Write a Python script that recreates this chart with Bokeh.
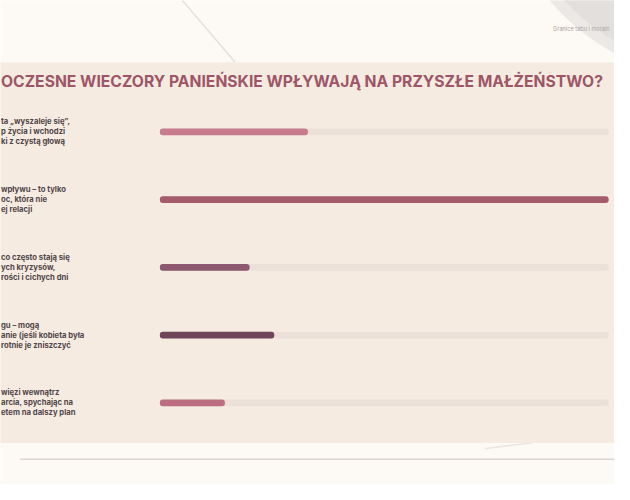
from bokeh.plotting import figure
from bokeh.models import Range1d, ColumnDataSource, Label
from bokeh.embed import file_html
from bokeh.resources import INLINE
from bokeh.core.properties import value

# ---- data ----
title_text = "OCZESNE WIECZORY PANIEŃSKIE WPŁYWAJĄ NA PRZYSZŁE MAŁŻEŃSTWO?"
header_text = "Granice tabu i moraln"
labels = [
    "ta „wyszaleje się”,\np życia i wchodzi\nki z czystą głową",
    "wpływu – to tylko\noc, która nie\nej relacji",
    "co często stają się\nych kryzysów,\nrości i cichych dni",
    "gu – mogą\nanie (jeśli kobieta była\nrotnie je zniszczyć",
    "więzi wewnątrz\narcia, spychając na\netem na dalszy plan",
]
values = [33, 100, 20, 25.5, 14.5]
rows = [0, 1, 2, 3, 4]
colors = ["#c97b8e", "#a45c6c", "#8b586f", "#6e4559", "#bd6d80"]
track_max = [100, 100, 100, 100, 100]

# ---- figure (main range follows the slide's 630x500 pixel grid) ----
W, H = 614, 484
p = figure(width=W, height=H, output_backend="svg", toolbar_location=None,
           x_range=Range1d(0, 630), y_range=Range1d(500, 0),
           min_border=0, min_border_left=0, min_border_right=0,
           min_border_top=0, min_border_bottom=0)
p.axis.visible = False
p.grid.visible = False
p.outline_line_color = None
p.background_fill_color = "#fdf9f5"
p.border_fill_color = "#fdf9f5"

# extra ranges for the bar values and the row index
p.extra_x_ranges = {"pct": Range1d((0 - 163.5) / 4.605, (630 - 163.5) / 4.605)}
p.extra_y_ranges = {"rows": Range1d((500 - 135.7) / 70.0, (0 - 135.7) / 70.0)}

# decorations: top-right swoosh, diagonal line, panel, bottom rule
p.circle(x=[740], y=[-150], radius=231, fill_color="#ece8e5", line_color=None)
p.circle(x=[740], y=[-150], radius=220, fill_color="#e3dfdc", line_color=None)
p.segment(x0=[185], y0=[-2], x1=[241], y1=[64], line_color="#e6e0dc", line_width=1.5)
p.quad(left=[-20], right=[650], top=[64], bottom=[457], fill_color="#f5ebe1", line_color=None)
p.segment(x0=[20], y0=[474], x1=[650], y1=[474], line_color="#ddd4d4", line_width=1.5)
p.line(x=[497, 520, 545], y=[463, 460, 457], line_color="#ebe4e0", line_width=1.5)

src = ColumnDataSource(dict(row=rows, val=values, mx=track_max, color=colors, label=labels))

# tracks and bars
p.hbar(y="row", height=0.1, left=0, right="mx", source=src,
       x_range_name="pct", y_range_name="rows",
       fill_color="#ebe1d9", line_color=None, border_radius=3)
p.hbar(y="row", height=0.1, left=0, right="val", source=src,
       x_range_name="pct", y_range_name="rows",
       fill_color="color", line_color=None, border_radius=3)

# option labels (fragments visible at the slide's left edge)
p.text(x=0.5, y="row", text="label", source=src, y_range_name="rows",
       text_font=value("Inter"), text_font_style="bold", text_font_size="7.7px",
       text_color="#514649", text_align="left", text_baseline="middle",
       text_line_height=1.1)

# title and header
p.add_layout(Label(x=0.5, y=84, text=title_text, text_font="Inter",
                   text_font_style="bold", text_font_size="15.7px",
                   text_color="#9d5668", text_align="left", text_baseline="middle"))
p.add_layout(Label(x=567, y=29, text=header_text, text_font="Inter",
                   text_font_size="5.6px", text_color="#aaa5a2",
                   text_align="left", text_baseline="middle"))

open("out.html", "w").write(file_html(p, INLINE))
